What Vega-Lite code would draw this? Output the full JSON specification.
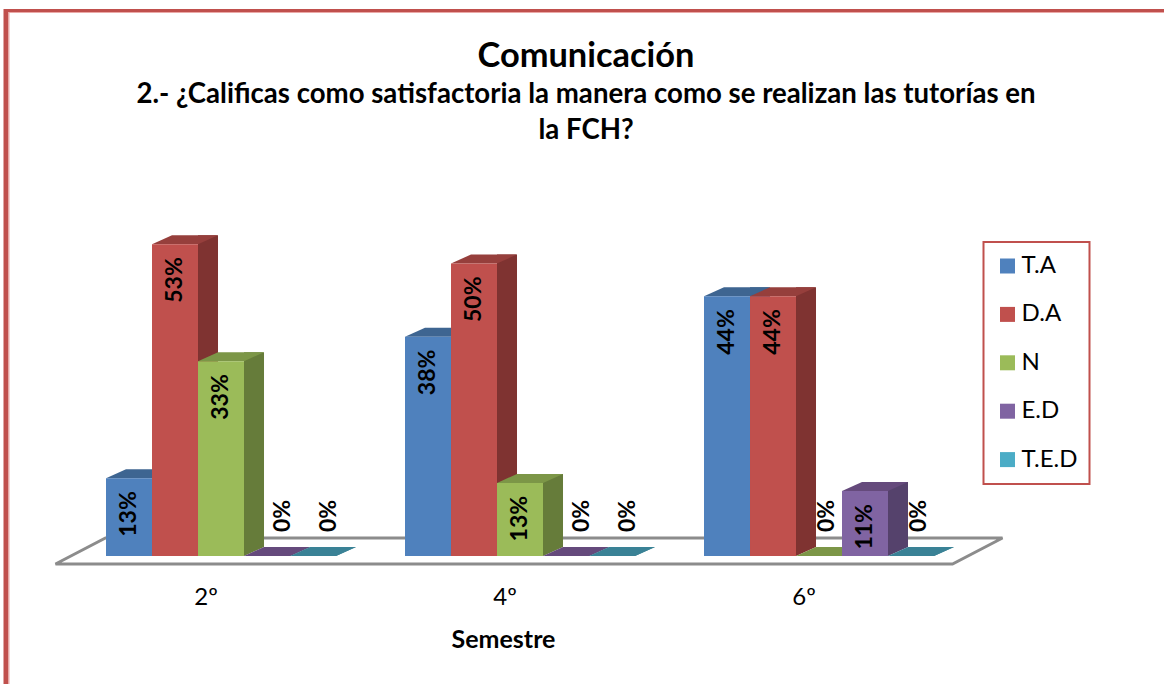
{
"$schema":"https://vega.github.io/schema/vega-lite/v6.json",
"width":897,"height":351,
"autosize":{"type":"none"},
"padding":{"left":71.5,"top":205,"right":195.5,"bottom":128},
"background":"white",
"config":{"view":{"stroke":null},"font":"Lato","legend":{"strokeWidth":2}},
"title":{"text":"Comunicación","subtitle":["2.- ¿Calificas como satisfactoria la manera como se realizan las tutorías en","la FCH?"],
"anchor":"middle","frame":"group","dx":66,"offset":-137,"font":"Lato","fontSize":34.4,"fontWeight":"bold","color":"#000000",
"subtitleFont":"Lato","subtitleFontSize":27.6,"subtitleFontWeight":"bold","subtitleColor":"#000000","subtitleLineHeight":36,"subtitlePadding":7},
"datasets":{"d":[
{"semestre":"2º","serie":"T.A","valor":0.133},
{"semestre":"2º","serie":"D.A","valor":0.533},
{"semestre":"2º","serie":"N","valor":0.333},
{"semestre":"2º","serie":"E.D","valor":0},
{"semestre":"2º","serie":"T.E.D","valor":0},
{"semestre":"4º","serie":"T.A","valor":0.375},
{"semestre":"4º","serie":"D.A","valor":0.5},
{"semestre":"4º","serie":"N","valor":0.125},
{"semestre":"4º","serie":"E.D","valor":0},
{"semestre":"4º","serie":"T.E.D","valor":0},
{"semestre":"6º","serie":"T.A","valor":0.444},
{"semestre":"6º","serie":"D.A","valor":0.444},
{"semestre":"6º","serie":"N","valor":0},
{"semestre":"6º","serie":"E.D","valor":0.111},
{"semestre":"6º","serie":"T.E.D","valor":0}
],"ref":[{"semestre":"4º","valor":0}]},
"resolve":{"scale":{"color":"independent","xOffset":"independent"}},
"layer":[
{"data":{"name":"ref"},
"mark":{"type":"point","filled":false,"fill":"white","fillOpacity":1,"stroke":"#8c8c8c","strokeWidth":3,"opacity":1,"size":4,"shape":"M-464.5,8L432.5,8L482.5,-18L-414.5,-18Z"},
"encoding":{"x":{"field":"semestre","type":"nominal","sort":["2º","4º","6º"],"scale":{"domain":["2º","4º","6º"],"paddingInner":0.2308,"paddingOuter":0.1154},
"axis":{"domain":false,"ticks":false,"labelAngle":0,"labelPadding":29,"labelOffset":-15,"labelFontSize":24,"labelFont":"Lato","labelColor":"#000000","title":"Semestre","titleFont":"Lato","titleFontSize":25,"titleFontWeight":"bold","titleColor":"#000000","titleX":431.5,"titleY":71}},
"y":{"field":"valor","type":"quantitative","scale":{"domain":[0,0.6]},"axis":null}}},
{"data":{"name":"ref"},
"mark":{"type":"point","filled":true,"fill":"#c0504d","opacity":1,"size":4,"shape":"M-516.5,-547L644,-547L644,-544L-511.5,-544L-511.5,128L-516.5,128Z"},
"encoding":{"x":{"field":"semestre","type":"nominal"},"y":{"field":"valor","type":"quantitative"}}},
{"data":{"name":"ref"},
"mark":{"type":"point","filled":true,"fill":"#eba9a7","opacity":1,"size":4,"shape":"M-511.5,-544L644,-544L644,-543L-510.5,-543L-510.5,128L-511.5,128Z"},
"encoding":{"x":{"field":"semestre","type":"nominal"},"y":{"field":"valor","type":"quantitative"}}},
{"data":{"name":"d"},
"mark":{"type":"bar","width":20,"yOffset":-9,"y2Offset":-9},
"encoding":{"x":{"field":"semestre","type":"nominal"},"xOffset":{"field":"serie","type":"nominal","sort":["T.A","D.A","N","E.D","T.E.D"],"scale":{"type":"band","domain":["T.A","D.A","N","E.D","T.E.D"],"range":[33,263],"paddingInner":0,"paddingOuter":0}},
"y":{"field":"valor","type":"quantitative","stack":null},
"y2":{"datum":0},
"color":{"field":"serie","type":"nominal","legend":null,"scale":{"domain":["T.A","D.A","N","E.D","T.E.D"],"range":["#3e6591","#7f3331","#667c3a","#55426c","#358090"]}}}},
{"data":{"name":"d"},
"mark":{"type":"point","filled":true,"opacity":1,"size":4,"shape":"M23,0L23,-9L43,-9Z"},
"encoding":{"x":{"field":"semestre","type":"nominal"},"xOffset":{"field":"serie","type":"nominal","sort":["T.A","D.A","N","E.D","T.E.D"],"scale":{"type":"band","domain":["T.A","D.A","N","E.D","T.E.D"],"range":[0,230],"paddingInner":0,"paddingOuter":0}},
"y":{"datum":0,"type":"quantitative"},
"color":{"field":"serie","type":"nominal","legend":null,"scale":{"domain":["T.A","D.A","N","E.D","T.E.D"],"range":["#3e6591","#7f3331","#667c3a","#55426c","#358090"]}}}},
{"data":{"name":"d"},
"mark":{"type":"point","filled":true,"opacity":1,"size":4,"shape":"M-23,0L-3,-9L43,-9L23,0Z"},
"encoding":{"x":{"field":"semestre","type":"nominal"},"xOffset":{"field":"serie","type":"nominal","sort":["T.A","D.A","N","E.D","T.E.D"],"scale":{"type":"band","domain":["T.A","D.A","N","E.D","T.E.D"],"range":[0,230],"paddingInner":0,"paddingOuter":0}},
"y":{"field":"valor","type":"quantitative"},
"color":{"field":"serie","type":"nominal","legend":null,"scale":{"domain":["T.A","D.A","N","E.D","T.E.D"],"range":["#3e6591","#963f3c","#7c9647","#654a7c","#3a8296"]}}}},
{"data":{"name":"d"},
"mark":{"type":"bar","width":46},
"encoding":{"x":{"field":"semestre","type":"nominal"},"xOffset":{"field":"serie","type":"nominal","sort":["T.A","D.A","N","E.D","T.E.D"],"scale":{"type":"band","domain":["T.A","D.A","N","E.D","T.E.D"],"range":[0,230],"paddingInner":0,"paddingOuter":0}},
"y":{"field":"valor","type":"quantitative","stack":null},
"color":{"field":"serie","type":"nominal","scale":{"domain":["T.A","D.A","N","E.D","T.E.D"],"range":["#4f81bd","#c0504d","#9bbb59","#8064a2","#4bacc6"]},
"legend":{"title":null,"orient":"none","legendX":912,"legendY":37,"symbolType":"square","symbolSize":225,"symbolStrokeWidth":0,"labelFont":"Lato","labelFontSize":24,"labelColor":"#000000","labelOffset":2,"rowPadding":24.4,"padding":12,"strokeColor":"#c0504d","fillColor":"white","symbolOpacity":1}}}},
{"data":{"name":"d"},
"transform":[{"filter":"datum.valor>0"}],
"mark":{"type":"text","angle":270,"align":"right","baseline":"middle","yOffset":13,"font":"Lato","fontSize":23,"fontWeight":"bold","color":"#000000"},
"encoding":{"x":{"field":"semestre","type":"nominal"},"xOffset":{"field":"serie","type":"nominal","sort":["T.A","D.A","N","E.D","T.E.D"],"scale":{"type":"band","domain":["T.A","D.A","N","E.D","T.E.D"],"range":[0,230],"paddingInner":0,"paddingOuter":0}},
"y":{"field":"valor","type":"quantitative"},"text":{"field":"valor","type":"quantitative","format":".0%"}}},
{"data":{"name":"d"},
"transform":[{"filter":"datum.valor==0 && datum.semestre!='6º'"}],
"mark":{"type":"text","angle":270,"align":"left","baseline":"middle","yOffset":-24,"font":"Lato","fontSize":23,"fontWeight":"bold","color":"#000000"},
"encoding":{"x":{"field":"semestre","type":"nominal"},"xOffset":{"field":"serie","type":"nominal","sort":["T.A","D.A","N","E.D","T.E.D"],"scale":{"type":"band","domain":["T.A","D.A","N","E.D","T.E.D"],"range":[16,246],"paddingInner":0,"paddingOuter":0}},
"y":{"field":"valor","type":"quantitative"},"text":{"field":"valor","type":"quantitative","format":".0%"}}},
{"data":{"name":"d"},
"transform":[{"filter":"datum.valor==0 && datum.semestre=='6º'"}],
"mark":{"type":"text","angle":270,"align":"left","baseline":"middle","yOffset":-24,"font":"Lato","fontSize":23,"fontWeight":"bold","color":"#000000"},
"encoding":{"x":{"field":"semestre","type":"nominal"},"xOffset":{"field":"serie","type":"nominal","sort":["T.A","D.A","N","E.D","T.E.D"],"scale":{"type":"band","domain":["T.A","D.A","N","E.D","T.E.D"],"range":[8,238],"paddingInner":0,"paddingOuter":0}},
"y":{"field":"valor","type":"quantitative"},"text":{"field":"valor","type":"quantitative","format":".0%"}}}
]
}
